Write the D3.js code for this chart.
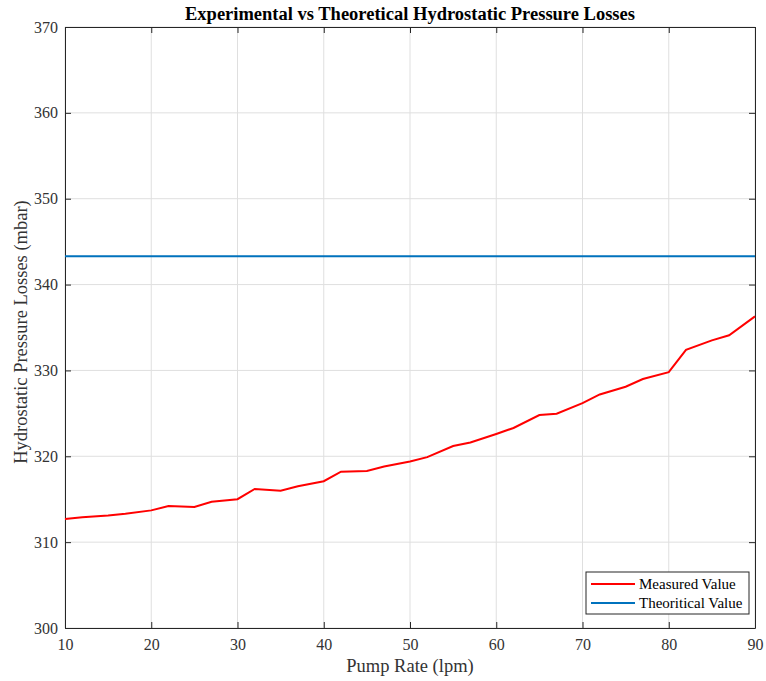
<!DOCTYPE html>
<html>
<head>
<meta charset="utf-8">
<script src="https://cdn.jsdelivr.net/npm/d3@7"></script>
<style>
  body { margin: 0; background: #fff; }
  svg, svg text { font-family: "Liberation Serif", "Times New Roman", serif; }
</style>
</head>
<body>
<div id="chart"></div>
<script>
// pump rate (lpm) and measured hydrostatic losses (mbar)
const pumpRate = [10, 12, 15, 17, 20, 22, 25, 27, 30, 32, 35, 37, 40, 42, 45, 47, 50, 52, 55, 57, 60, 62, 65, 67, 70, 72, 75, 77, 80, 82, 85, 87, 90];
const measured = [312.7, 312.9, 313.1, 313.3, 313.7, 314.2, 314.1, 314.7, 315.0, 316.2, 316.0, 316.5, 317.1, 318.2, 318.3, 318.8, 319.4, 319.9, 321.2, 321.6, 322.6, 323.3, 324.8, 324.95, 326.2, 327.2, 328.1, 329.0, 329.8, 332.4, 333.5, 334.1, 336.3];
const theoretical = 343.3;
const xTicks = [10, 20, 30, 40, 50, 60, 70, 80, 90];
const yTicks = [300, 310, 320, 330, 340, 350, 360, 370];

const width = 766, height = 681;
const margin = { top: 27, right: 11, bottom: 53, left: 65 };
const w = width - margin.left - margin.right;
const h = height - margin.top - margin.bottom;

const svg = d3.select("#chart").append("svg")
    .attr("width", width)
    .attr("height", height);

const g = svg.append("g")
    .attr("transform", `translate(${margin.left},${margin.top})`);

const x = d3.scaleLinear().domain([10, 90]).range([0, w]);
const y = d3.scaleLinear().domain([300, 370]).range([h, 0]);

// grid
g.selectAll(".vgrid").data(xTicks).join("line")
    .attr("x1", d => x(d)).attr("x2", d => x(d))
    .attr("y1", 0).attr("y2", h)
    .attr("stroke", "#dfdfdf").attr("stroke-width", 1);
g.selectAll(".hgrid").data(yTicks).join("line")
    .attr("x1", 0).attr("x2", w)
    .attr("y1", d => y(d)).attr("y2", d => y(d))
    .attr("stroke", "#dfdfdf").attr("stroke-width", 1);

// axes, ticks inside like matlab
const tickCol = "#262626";
const xb = g.append("g").attr("transform", `translate(0,${h})`)
    .call(d3.axisBottom(x).tickValues(xTicks).tickSizeInner(-6).tickSizeOuter(0).tickPadding(11));
const xt = g.append("g")
    .call(d3.axisTop(x).tickValues(xTicks).tickSizeInner(-6).tickSizeOuter(0).tickFormat(""));
const yl = g.append("g")
    .call(d3.axisLeft(y).tickValues(yTicks).tickSizeInner(-6).tickSizeOuter(0).tickPadding(7));
const yr = g.append("g").attr("transform", `translate(${w},0)`)
    .call(d3.axisRight(y).tickValues(yTicks).tickSizeInner(-6).tickSizeOuter(0).tickFormat(""));

[xb, xt, yl, yr].forEach(a => {
    a.attr("font-family", "'Liberation Serif', serif").attr("font-size", 16);
    a.selectAll("path").attr("stroke", tickCol).attr("stroke-width", 1);
    a.selectAll("line").attr("stroke", tickCol).attr("stroke-width", 1);
    a.selectAll("text").attr("fill", "#333");
});

// lines
const line = d3.line().x((d, i) => x(pumpRate[i])).y(d => y(d));
g.append("path").datum(measured)
    .attr("fill", "none").attr("stroke", "#ff0000").attr("stroke-width", 2)
    .attr("d", line);
g.append("line")
    .attr("x1", x(10)).attr("x2", x(90))
    .attr("y1", y(theoretical)).attr("y2", y(theoretical))
    .attr("stroke", "#0072bd").attr("stroke-width", 2);

// titles
svg.append("text")
    .attr("x", margin.left + w / 2).attr("y", 20)
    .attr("text-anchor", "middle")
    .style("font-size", "18.5px").style("font-weight", "bold")
    .attr("fill", "#000")
    .text("Experimental vs Theoretical Hydrostatic Pressure Losses");

svg.append("text")
    .attr("x", margin.left + w / 2).attr("y", 672)
    .attr("text-anchor", "middle")
    .style("font-size", "18.5px").attr("fill", "#333")
    .text("Pump Rate (lpm)");

svg.append("text")
    .attr("transform", `translate(27,332) rotate(-90)`)
    .attr("text-anchor", "middle")
    .style("font-size", "18.5px").attr("fill", "#333")
    .text("Hydrostatic Pressure Losses (mbar)");

// legend
const legendItems = [
    { name: "Measured Value", color: "#ff0000" },
    { name: "Theoritical Value", color: "#0072bd" }
];
const lg = svg.append("g").attr("transform", "translate(586,572)");
lg.append("rect")
    .attr("width", 163).attr("height", 42)
    .attr("fill", "#fff").attr("stroke", tickCol).attr("stroke-width", 1);
legendItems.forEach((it, i) => {
    const yy = 12 + i * 19;
    lg.append("line")
        .attr("x1", 5).attr("x2", 49).attr("y1", yy).attr("y2", yy)
        .attr("stroke", it.color).attr("stroke-width", 2);
    lg.append("text")
        .attr("x", 53).attr("y", yy + 5)
        .style("font-size", "15px").attr("fill", "#000")
        .text(it.name);
});
</script>
</body>
</html>
